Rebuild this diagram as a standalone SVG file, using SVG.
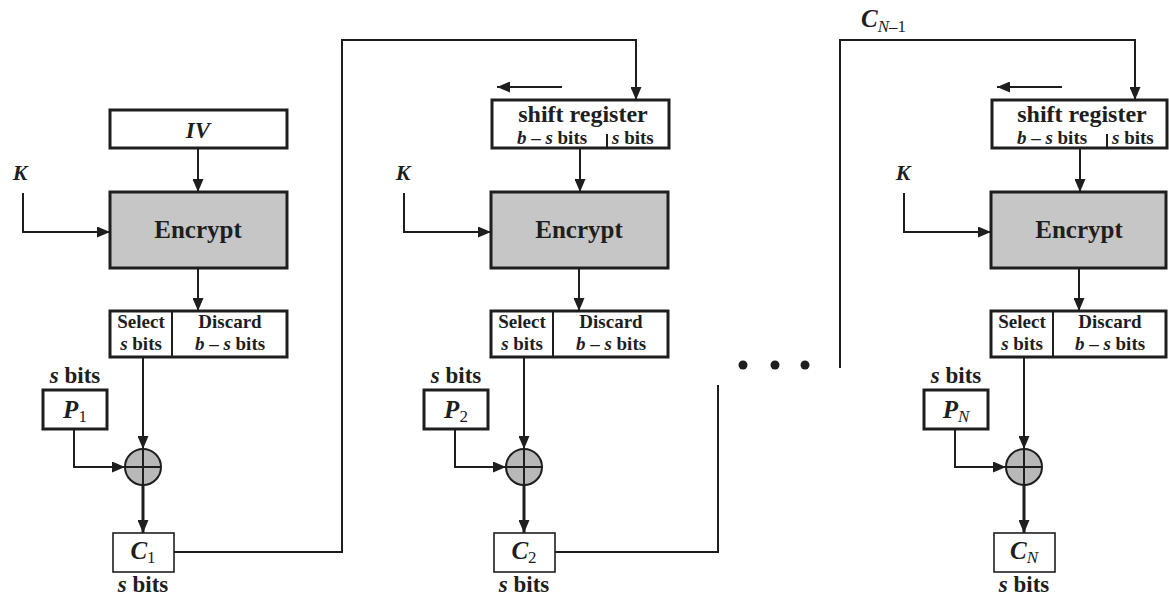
<svg xmlns="http://www.w3.org/2000/svg" width="1169" height="603" viewBox="0 0 1169 603">
<defs>
<marker id="ah" viewBox="0 0 13 11" markerWidth="13" markerHeight="11" refX="13" refY="5.5" orient="auto" markerUnits="userSpaceOnUse">
<path d="M0,0 L13,5.5 L0,11 z" fill="#1e1e1e"/>
</marker>
<style>
.box{fill:#fff;stroke:#1e1e1e;stroke-width:3}
.thin{fill:#fff;stroke:#1e1e1e;stroke-width:1.6}
.enc{fill:#c6c6c6;stroke:#1e1e1e;stroke-width:3}
.xor{fill:#b8b8b8;stroke:#1e1e1e;stroke-width:2}
.ln{fill:none;stroke:#1e1e1e;stroke-width:2}
.thk{fill:none;stroke:#1e1e1e;stroke-width:3}
.arr{marker-end:url(#ah)}
.div{stroke:#1e1e1e;stroke-width:2}
text{font-family:"Liberation Serif","Times New Roman",serif;font-weight:bold;fill:#1e1e1e}
.big{font-size:25px}
.sr{font-size:24px}
.sr2{font-size:19px}
.sm{font-size:19px}
.lb{font-size:23px}
.kk{font-size:22px}
.it{font-style:italic}
.sub{font-size:17px;font-weight:normal}
</style>
</defs>
<rect width="1169" height="603" fill="#fff"/>

<!-- connectors -->
<g id="connectors">
<!-- column 1 -->
<path class="ln arr" d="M198,148 V192"/>
<path class="ln arr" d="M23,193 V232 H110"/>
<path class="ln arr" d="M198,268 V311"/>
<path class="ln arr" d="M143,357 V449"/>
<path class="ln arr" d="M74,429 V467 H125"/>
<path class="thk arr" d="M143,485 V533"/>
<path class="ln arr" d="M174,552 H342 V40 H636 V100"/>
<!-- column 2 -->
<path class="ln arr" d="M562,87 H497"/>
<path class="ln arr" d="M580,148 V192"/>
<path class="ln arr" d="M404,193 V232 H491"/>
<path class="ln arr" d="M579,268 V311"/>
<path class="ln arr" d="M524,357 V449"/>
<path class="ln arr" d="M455,429 V467 H506"/>
<path class="thk arr" d="M524,485 V533"/>
<path class="ln" d="M555,552 H718 V385"/>
<!-- column 3 -->
<path class="ln arr" d="M840,368 V40 H1135 V100"/>
<path class="ln arr" d="M1062,87 H997"/>
<path class="ln arr" d="M1080,148 V192"/>
<path class="ln arr" d="M904,193 V232 H991"/>
<path class="ln arr" d="M1079,268 V311"/>
<path class="ln arr" d="M1024,357 V449"/>
<path class="ln arr" d="M955,429 V467 H1006"/>
<path class="thk arr" d="M1024,485 V533"/>
</g>

<!-- ellipsis -->
<g id="ellipsis" fill="#1e1e1e">
<circle cx="743" cy="365" r="4.5"/>
<circle cx="775" cy="365" r="4.5"/>
<circle cx="805" cy="365" r="4.5"/>
</g>

<text id="cn1-label" x="861" y="27" class="big it">C<tspan class="sub" dy="5" font-style="italic" font-weight="bold">N</tspan><tspan class="sub" font-style="normal">–1</tspan></text>

<!-- ===== Column 1 ===== -->
<g id="k1"><text x="20" y="180" class="kk it" text-anchor="middle">K</text></g>
<g id="iv">
<rect class="box" x="110" y="110" width="177" height="38"/>
<text x="198" y="138" class="lb it" text-anchor="middle">IV</text>
</g>
<g id="encrypt1">
<rect class="enc" x="110" y="192" width="177" height="76"/>
<text x="198" y="238" class="big" text-anchor="middle">Encrypt</text>
</g>
<g id="select1">
<rect class="box" x="110" y="311" width="177" height="46"/>
<line class="div" x1="172" y1="311" x2="172" y2="357"/>
<text x="141" y="328" class="sm" text-anchor="middle">Select</text>
<text x="141" y="350" class="sm" text-anchor="middle"><tspan class="it">s</tspan> bits</text>
<text x="230" y="328" class="sm" text-anchor="middle">Discard</text>
<text x="230" y="350" class="sm" text-anchor="middle"><tspan class="it">b</tspan> – <tspan class="it">s</tspan> bits</text>
</g>
<g id="p1">
<text x="75" y="383" class="lb" text-anchor="middle"><tspan class="it">s</tspan> bits</text>
<rect class="box" x="43" y="390" width="64" height="39"/>
<text x="75" y="418" class="big" text-anchor="middle"><tspan class="it">P</tspan><tspan class="sub" dy="4">1</tspan></text>
</g>
<g id="xor1">
<circle class="xor" cx="143" cy="467" r="18"/>
<path class="div" d="M125,467 H161 M143,449 V485"/>
</g>
<g id="c1">
<rect class="thin" x="113" y="533" width="61" height="39"/>
<text x="143" y="559" class="big" text-anchor="middle"><tspan class="it">C</tspan><tspan class="sub" dy="4">1</tspan></text>
<text x="143" y="592" class="lb" text-anchor="middle"><tspan class="it">s</tspan> bits</text>
</g>

<!-- ===== Column 2 ===== -->
<g id="k2"><text x="403" y="180" class="kk it" text-anchor="middle">K</text></g>
<g id="shift2">
<rect class="box" x="492" y="100" width="177" height="48"/>
<line class="div" x1="607" y1="134" x2="607" y2="148"/>
<text x="583" y="122" class="sr" text-anchor="middle">shift register</text>
<text x="552" y="144" class="sr2" text-anchor="middle"><tspan class="it">b</tspan> – <tspan class="it">s</tspan> bits</text>
<text x="612" y="144" class="sr2"><tspan class="it">s</tspan> bits</text>
</g>
<g id="encrypt2">
<rect class="enc" x="491" y="192" width="177" height="76"/>
<text x="579" y="238" class="big" text-anchor="middle">Encrypt</text>
</g>
<g id="select2">
<rect class="box" x="491" y="311" width="177" height="46"/>
<line class="div" x1="553" y1="311" x2="553" y2="357"/>
<text x="522" y="328" class="sm" text-anchor="middle">Select</text>
<text x="522" y="350" class="sm" text-anchor="middle"><tspan class="it">s</tspan> bits</text>
<text x="611" y="328" class="sm" text-anchor="middle">Discard</text>
<text x="611" y="350" class="sm" text-anchor="middle"><tspan class="it">b</tspan> – <tspan class="it">s</tspan> bits</text>
</g>
<g id="p2">
<text x="456" y="383" class="lb" text-anchor="middle"><tspan class="it">s</tspan> bits</text>
<rect class="box" x="424" y="390" width="64" height="39"/>
<text x="456" y="418" class="big" text-anchor="middle"><tspan class="it">P</tspan><tspan class="sub" dy="4">2</tspan></text>
</g>
<g id="xor2">
<circle class="xor" cx="524" cy="467" r="18"/>
<path class="div" d="M506,467 H542 M524,449 V485"/>
</g>
<g id="c2">
<rect class="thin" x="494" y="533" width="61" height="39"/>
<text x="524" y="559" class="big" text-anchor="middle"><tspan class="it">C</tspan><tspan class="sub" dy="4">2</tspan></text>
<text x="524" y="592" class="lb" text-anchor="middle"><tspan class="it">s</tspan> bits</text>
</g>

<!-- ===== Column 3 ===== -->
<g id="k3"><text x="903" y="180" class="kk it" text-anchor="middle">K</text></g>
<g id="shift3">
<rect class="box" x="992" y="100" width="175" height="48"/>
<line class="div" x1="1107" y1="134" x2="1107" y2="148"/>
<text x="1082" y="122" class="sr" text-anchor="middle">shift register</text>
<text x="1052" y="144" class="sr2" text-anchor="middle"><tspan class="it">b</tspan> – <tspan class="it">s</tspan> bits</text>
<text x="1112" y="144" class="sr2"><tspan class="it">s</tspan> bits</text>
</g>
<g id="encrypt3">
<rect class="enc" x="991" y="192" width="175" height="76"/>
<text x="1079" y="238" class="big" text-anchor="middle">Encrypt</text>
</g>
<g id="select3">
<rect class="box" x="991" y="311" width="175" height="46"/>
<line class="div" x1="1053" y1="311" x2="1053" y2="357"/>
<text x="1022" y="328" class="sm" text-anchor="middle">Select</text>
<text x="1022" y="350" class="sm" text-anchor="middle"><tspan class="it">s</tspan> bits</text>
<text x="1110" y="328" class="sm" text-anchor="middle">Discard</text>
<text x="1110" y="350" class="sm" text-anchor="middle"><tspan class="it">b</tspan> – <tspan class="it">s</tspan> bits</text>
</g>
<g id="pn">
<text x="956" y="383" class="lb" text-anchor="middle"><tspan class="it">s</tspan> bits</text>
<rect class="box" x="924" y="390" width="64" height="39"/>
<text x="956" y="418" class="big" text-anchor="middle"><tspan class="it">P</tspan><tspan class="sub it" dy="4" font-weight="bold">N</tspan></text>
</g>
<g id="xorn">
<circle class="xor" cx="1024" cy="467" r="18"/>
<path class="div" d="M1006,467 H1042 M1024,449 V485"/>
</g>
<g id="cn">
<rect class="thin" x="994" y="533" width="61" height="39"/>
<text x="1024" y="559" class="big" text-anchor="middle"><tspan class="it">C</tspan><tspan class="sub it" dy="4" font-weight="bold">N</tspan></text>
<text x="1024" y="592" class="lb" text-anchor="middle"><tspan class="it">s</tspan> bits</text>
</g>
</svg>
